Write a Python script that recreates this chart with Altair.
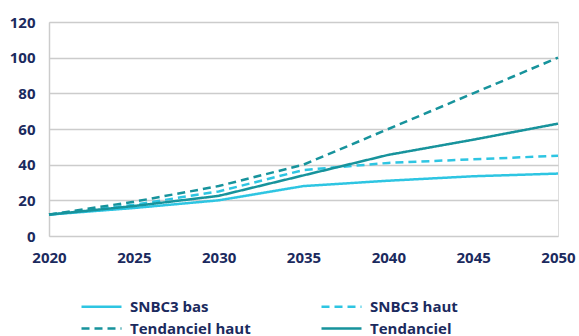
import altair as alt
import pandas as pd

years = [2020, 2025, 2030, 2035, 2040, 2045, 2050]
snbc3_bas = [12, 15.7, 20, 28, 31, 33.5, 35]
snbc3_haut = [12, 17.5, 25, 37, 41, 43, 45]
tend_haut = [12, 19.2, 28, 40, 60, 80, 100]
tend = [12, 16.8, 22.5, 34, 45.5, 54, 63]

series_names = ["SNBC3 bas", "SNBC3 haut", "Tendanciel haut", "Tendanciel"]
series_vals = [snbc3_bas, snbc3_haut, tend_haut, tend]
colors = ["#2ec5e2", "#2ec5e2", "#17939c", "#17939c"]
dashes = [[1, 0], [8, 5], [8, 5], [1, 0]]

rows = []
for name, vals in zip(series_names, series_vals):
    for y, v in zip(years, vals):
        rows.append({"year": y, "value": v, "serie": name})
df = pd.DataFrame(rows)

navy = "#1b2a5e"
font = "Open Sans"

chart = alt.Chart(df).mark_line(strokeWidth=2.5).encode(
    x=alt.X("year:Q", scale=alt.Scale(domain=[2020, 2050], nice=False),
            axis=alt.Axis(values=years, format="d", title=None, grid=False, domain=False,
                          ticks=False, labelPadding=14, labelFontSize=15, labelFont=font,
                          labelFontWeight="bold", labelColor=navy, labelFlush=False)),
    y=alt.Y("value:Q", scale=alt.Scale(domain=[0, 120], nice=False),
            axis=alt.Axis(values=[0, 20, 40, 60, 80, 100, 120], title=None, grid=True,
                          gridColor="#cccccc", gridWidth=1.5, domain=True, domainColor="#cccccc",
                          domainWidth=1.5, ticks=False, labelPadding=14, labelFontSize=15,
                          labelFont=font, labelFontWeight="bold", labelColor=navy)),
    color=alt.Color("serie:N", scale=alt.Scale(domain=series_names, range=colors),
                    sort=series_names,
                    legend=alt.Legend(title=None, orient="none", legendX=41, legendY=273,
                                      direction="horizontal",
                                      columns=2, columnPadding=65, rowPadding=2,
                                      symbolType="M-2,0H2", symbolSize=400, symbolStrokeWidth=2.5,
                                      labelFontSize=15, labelFont=font, labelFontWeight="bold",
                                      labelColor=navy, labelOffset=17)),
    strokeDash=alt.StrokeDash("serie:N", scale=alt.Scale(domain=series_names, range=dashes),
                              sort=series_names, legend=None),
).properties(
    width=509, height=214,
    autosize=alt.AutoSizeParams(type="none"),
    padding={"left": 49, "top": 22, "right": 21, "bottom": 100},
).configure_view(stroke=None).configure(background="white")

chart.save("out.html", embed_options={"renderer": "svg", "actions": False})
